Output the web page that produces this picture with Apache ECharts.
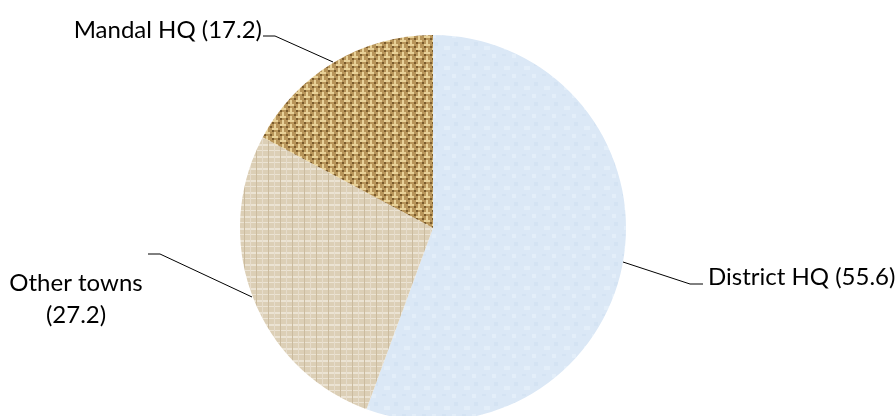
<!DOCTYPE html>
<html><head><meta charset="utf-8">
<script src="https://cdn.jsdelivr.net/npm/echarts@6/dist/echarts.min.js"></script>
<style>html,body{margin:0;padding:0;background:#fff}#c{width:896px;height:416px}</style>
</head><body><div id="c"></div>
<script>
var categories = ['District HQ', 'Other towns', 'Mandal HQ'];
var values = [55.6, 27.2, 17.2];

function tile(w, h, s, draw) {
  var c = document.createElement('canvas'); c.width = w * s; c.height = h * s;
  var g = c.getContext('2d'); g.scale(s, s); draw(g); return c;
}
var weave = tile(8, 8, 2, function (g) {
  g.fillStyle = '#b8955a'; g.fillRect(0, 0, 8, 8);
  g.fillStyle = '#e8d198';
  g.fillRect(0, 0, 3, 1); g.fillRect(4, 2, 3, 1); g.fillRect(0, 4, 3, 1); g.fillRect(4, 6, 3, 1);
  g.fillRect(5, 0, 1, 2); g.fillRect(1, 2, 1, 2); g.fillRect(5, 4, 1, 2); g.fillRect(1, 6, 1, 2);
  g.fillStyle = '#7a5b2c';
  g.fillRect(3, 1, 1, 1); g.fillRect(7, 3, 1, 1); g.fillRect(3, 5, 1, 1); g.fillRect(7, 7, 1, 1);
  g.fillRect(0, 1, 1, 1); g.fillRect(4, 3, 1, 1); g.fillRect(0, 5, 1, 1); g.fillRect(4, 7, 1, 1);
});
var linen = tile(6, 6, 2, function (g) {
  g.fillStyle = '#dccfb6'; g.fillRect(0, 0, 6, 6);
  g.fillStyle = '#ebe3d3'; g.fillRect(0, 0, 6, 1); g.fillRect(0, 3, 6, 0.5);
  g.fillStyle = '#cbbb9e'; g.fillRect(2, 0, 0.5, 6);
  g.fillStyle = '#e6dccb'; g.fillRect(5, 0, 0.5, 6);
});
var paper = tile(10, 10, 2, function (g) {
  g.fillStyle = '#dbe8f6'; g.fillRect(0, 0, 10, 10);
  g.fillStyle = '#e3eef9'; g.fillRect(2, 3, 3, 2); g.fillRect(6, 7, 2, 2);
  g.fillStyle = '#d4e3f3'; g.fillRect(7, 1, 2, 2); g.fillRect(1, 7, 2, 1);
});
var fills = [paper, linen, weave];

var layouts = [
  { x: 708, y: 277, align: 'left', pts: [[623, 262], [690, 284], [703, 284]] },
  { x: 76, y: 299, align: 'center', pts: [[252, 297], [160, 254], [148, 254]] },
  { x: 262, y: 30, align: 'right', pts: [[333, 62], [275, 36], [263, 36]] }
];

var data = categories.map(function (n, i) {
  return { name: n, value: values[i], itemStyle: { color: { image: fills[i], repeat: 'repeat' } } };
});

var chart = echarts.init(document.getElementById('c'));
chart.setOption({
  animation: false,
  series: [{
    type: 'pie',
    center: [433, 228],
    radius: 193,
    startAngle: 90,
    clockwise: true,
    data: data,
    label: {
      fontFamily: 'Lato',
      fontSize: 24,
      color: '#000',
      lineHeight: 32,
      formatter: function (p) {
        return p.name === 'Other towns' ? p.name + '\n(' + p.value + ')' : p.name + ' (' + p.value + ')';
      }
    },
    labelLine: { show: true, lineStyle: { color: '#000', width: 1 } },
    labelLayout: function (p) {
      var L = layouts[p.dataIndex];
      return { x: L.x, y: L.y, align: L.align, verticalAlign: 'middle', labelLinePoints: L.pts };
    },
    emphasis: { disabled: true }
  }]
});
</script></body></html>
